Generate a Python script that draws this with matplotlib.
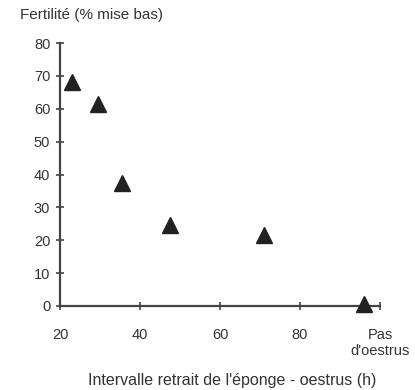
import matplotlib.pyplot as plt
import numpy as np

# Intervalle retrait de l'éponge - oestrus (h) ; 96 = "Pas d'oestrus"
intervalle = [23, 29.5, 35.5, 47.5, 71, 96]
fertilite = [68, 61.5, 37.5, 24.5, 21.5, 0.5]

x_ticks = [20, 40, 60, 80, 100]
x_labels = ['20', '40', '60', '80', "Pas\nd'oestrus"]
y_ticks = [0, 10, 20, 30, 40, 50, 60, 70, 80]

plt.rcParams['font.family'] = ['Liberation Sans', 'DejaVu Sans']

fig = plt.figure(figsize=(4.15, 3.9), dpi=100)
ax = fig.add_axes([0.1446, 0.2154, 0.7711, 0.6743])

ax.plot(intervalle, fertilite, linestyle='none', marker='^', markersize=11,
        color='#222222', clip_on=False, zorder=5)

ax.set_xlim(20, 100)
ax.set_ylim(0, 80)
ax.set_xticks(x_ticks)
ax.set_xticklabels(x_labels, fontsize=10.5, color='#333333')
ax.set_yticks(y_ticks)
ax.set_yticklabels([str(v) for v in y_ticks], fontsize=10.5, color='#333333')
last = ax.get_xticklabels()[-1]
last.set_ha('center')
last.set_linespacing(1.15)

ax.spines['top'].set_visible(False)
ax.spines['right'].set_visible(False)
for s in ['left', 'bottom']:
    ax.spines[s].set_color('#444444')
    ax.spines[s].set_linewidth(1.6)
ax.tick_params(axis='both', direction='inout', length=6, width=1.2,
               color='#444444', pad=4)
ax.tick_params(axis='x', pad=13)

fig.text(0.048, 0.962, 'Fertilité (% mise bas)', fontsize=11,
         color='#333333', va='center', ha='left')
fig.text(0.56, 0.005, "Intervalle retrait de l'éponge - oestrus (h)",
         fontsize=11.5, color='#333333', ha='center', va='bottom')

fig.savefig('out.png', dpi=100)
